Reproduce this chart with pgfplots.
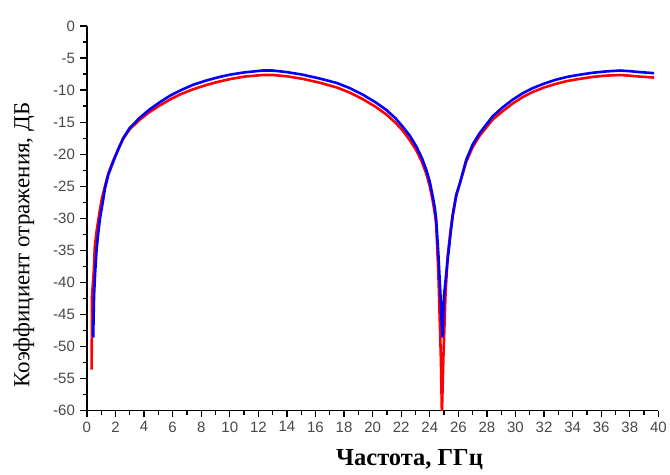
\documentclass[border=0pt]{standalone}
\usepackage{pgfplots}
\pgfplotsset{compat=1.18}
\usepackage{fontspec}
\setmainfont{Liberation Serif}
\setsansfont{Liberation Sans}

\begin{document}
\begin{tikzpicture}
\begin{axis}[
  scale only axis,
  width=572pt, height=385pt,
  xmin=0, xmax=40, ymin=-60, ymax=0,
  axis x line=bottom, axis y line=left,
  axis line style={-, line width=1.4pt},
  xtick distance=2, ytick distance=5,
  minor x tick num=1, minor y tick num=1,
  tick align=outside,
  major tick length=6.5pt, minor tick length=4pt,
  every tick/.style={black, line width=1.2pt},
  /pgf/number format/assume math mode=true,
  tick label style={font=\fontsize{15}{15}\selectfont\sffamily, text=black!72},
  xticklabel style={yshift=-1pt},
  yticklabel style={xshift=-2pt},
  xlabel={\bfseries Частота, ГГц},
  xlabel style={font=\fontsize{24.5}{24.5}\selectfont, xshift=37pt, yshift=-10pt},
  ylabel={Коэффициент отражения, ДБ},
  ylabel style={font=\fontsize{23}{23}\selectfont, xshift=-27pt, yshift=12pt},
  clip=true,
]
% red series
\addplot[red, line width=2.6pt] coordinates {
(0.33,-53.6)(0.36,-42)(0.49,-38)(0.55,-34.5)(0.68,-32)(0.85,-29.5)(1.03,-27.1)
(1.26,-25.0)(1.5,-23.0)(1.84,-21.0)(2.2,-19.2)(2.54,-17.6)(3.0,-16.1)(3.71,-14.6)
(4.4,-13.4)(5.1,-12.4)(5.8,-11.5)(6.5,-10.7)(7.4,-9.9)(8.37,-9.2)(9.2,-8.7)
(10.0,-8.3)(11.0,-7.9)(12.3,-7.65)(13.0,-7.65)(14.0,-7.85)(15.1,-8.25)(16.3,-8.85)
(17.5,-9.6)(18.4,-10.4)(19.3,-11.4)(20.2,-12.6)(20.96,-13.8)(21.6,-15.1)(22.1,-16.3)
(22.6,-17.8)(23.06,-19.4)(23.45,-21.2)(23.75,-23.0)(24.0,-25.0)(24.2,-27.2)(24.35,-29.2)
(24.45,-31)(24.6,-38.5)(24.78,-52)(24.85,-60.5)(24.95,-52)(25.1,-42)(25.25,-36)
(25.45,-32.0)(25.6,-29.5)(25.85,-26.3)(26.1,-24.6)(26.55,-21.2)(27.0,-18.9)(27.5,-17.1)
(28.4,-14.6)(29.1,-13.3)(29.8,-12.1)(30.5,-11.1)(31.2,-10.3)(32.0,-9.6)(32.8,-9.05)
(33.6,-8.6)(34.5,-8.25)(35.4,-7.95)(36.3,-7.75)(37.3,-7.65)(38.0,-7.75)(38.7,-7.9)
(39.7,-8.05)
};
% blue series
\addplot[blue, line width=2.6pt] coordinates {
(0.44,-48.6)(0.50,-42.0)(0.58,-38.4)(0.68,-34.8)(0.80,-32.2)(0.91,-30.1)(1.14,-27.1)
(1.26,-25.4)(1.5,-23.2)(1.84,-21.2)(2.2,-19.2)(2.54,-17.5)(3.0,-15.9)(3.71,-14.3)
(4.4,-13.0)(5.1,-11.9)(5.8,-10.9)(6.5,-10.1)(7.4,-9.2)(8.37,-8.5)(9.2,-8.0)
(10.0,-7.6)(11.0,-7.25)(12.3,-6.95)(13.0,-6.95)(14.0,-7.2)(15.1,-7.6)(16.3,-8.2)
(17.5,-8.9)(18.4,-9.7)(19.3,-10.7)(20.2,-11.9)(20.96,-13.1)(21.6,-14.4)(22.1,-15.7)
(22.6,-17.1)(23.06,-18.8)(23.45,-20.6)(23.75,-22.4)(24.0,-24.3)(24.2,-26.5)(24.35,-28.3)
(24.45,-30.2)(24.6,-35.5)(24.75,-42.0)(24.88,-48.6)(25.0,-42.0)(25.25,-36.5)(25.45,-32.5)
(25.6,-29.7)(25.85,-26.5)(26.1,-24.6)(26.55,-20.9)(27.0,-18.5)(27.5,-16.7)(28.4,-14.1)
(29.1,-12.7)(29.8,-11.5)(30.5,-10.5)(31.2,-9.7)(32.0,-9.0)(32.8,-8.4)(33.6,-7.95)
(34.5,-7.6)(35.4,-7.3)(36.3,-7.1)(37.3,-6.95)(38.0,-7.05)(38.7,-7.2)(39.7,-7.36)
};
\end{axis}
% extra white space as in the reference
\path (current axis.south west) +(-87pt,-64pt) (current axis.north east) +(11pt,26pt);
\end{tikzpicture}
\end{document}
